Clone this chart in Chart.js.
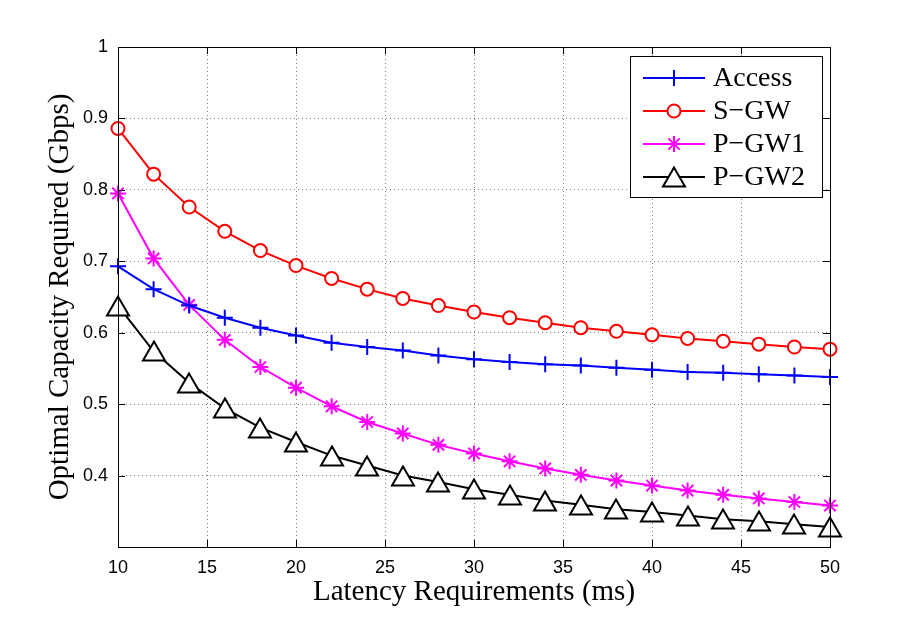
<!DOCTYPE html>
<html>
<head>
<meta charset="utf-8">
<script src="https://cdn.jsdelivr.net/npm/chart.js@4/dist/chart.umd.min.js"></script>
<style>
  html, body { margin: 0; padding: 0; background: #fff; }
  #wrap { width: 909px; height: 617px; }
</style>
</head>
<body>
<div id="wrap"><canvas id="myChart" width="909" height="617"></canvas></div>
<script>
// latency requirement (ms)
var latency = [10, 12, 14, 16, 18, 20, 22, 24, 26, 28, 30, 32, 34, 36, 38, 40, 42, 44, 46, 48, 50];
// optimal capacity (Gbps) per node
var access = [0.693, 0.661, 0.638, 0.621, 0.607, 0.596, 0.586, 0.580, 0.575, 0.568, 0.563, 0.559, 0.556, 0.554, 0.551, 0.548, 0.545, 0.544, 0.542, 0.540, 0.538];
var sgw    = [0.886, 0.822, 0.776, 0.742, 0.715, 0.694, 0.676, 0.661, 0.648, 0.638, 0.629, 0.621, 0.614, 0.607, 0.602, 0.597, 0.592, 0.588, 0.584, 0.580, 0.577];
var pgw1   = [0.795, 0.704, 0.639, 0.590, 0.552, 0.523, 0.497, 0.475, 0.459, 0.443, 0.431, 0.420, 0.410, 0.401, 0.393, 0.386, 0.379, 0.373, 0.368, 0.363, 0.358];
var pgw2   = [0.638, 0.574, 0.530, 0.494, 0.467, 0.447, 0.428, 0.414, 0.400, 0.391, 0.381, 0.373, 0.365, 0.359, 0.353, 0.349, 0.344, 0.339, 0.336, 0.332, 0.328];
var seriesNames = ['Access', 'S\u2212GW', 'P\u2212GW1', 'P\u2212GW2'];
var xTicks = [10, 15, 20, 25, 30, 35, 40, 45, 50];
var yTicks = [0.4, 0.5, 0.6, 0.7, 0.8, 0.9, 1];

function pts(arr) {
  return arr.map(function (v, i) { return { x: latency[i], y: v }; });
}

// matlab '^' marker is centred on its bounding box, chart.js triangle is not
function triMarker() {
  var c = document.createElement('canvas');
  c.width = 26; c.height = 24;
  var g = c.getContext('2d');
  g.beginPath();
  g.moveTo(13, 2.5);
  g.lineTo(24, 21.5);
  g.lineTo(2, 21.5);
  g.closePath();
  g.fillStyle = '#fff';
  g.fill();
  g.lineWidth = 2;
  g.lineJoin = 'miter';
  g.strokeStyle = '#000';
  g.stroke();
  return c;
}

function series(label, arr, color, style, radius) {
  return {
    label: label,
    data: pts(arr),
    borderColor: color,
    backgroundColor: color,
    borderWidth: 2,
    pointStyle: style,
    pointRadius: radius,
    pointHoverRadius: radius,
    pointBorderColor: color,
    pointBackgroundColor: '#ffffff',
    pointBorderWidth: 2,
    tension: 0,
    fill: false,
    clip: false
  };
}

var sets = [
  series(seriesNames[0], access, '#0000ff', 'cross', 8),
  series(seriesNames[1], sgw, '#ff0000', 'circle', 6.5),
  series(seriesNames[2], pgw1, '#ff00ff', 'star', 8),
  series(seriesNames[3], pgw2, '#000000', triMarker(), 11)
];

// matlab style box, inward ticks and legend
var frame = {
  id: 'frame',
  beforeDatasetsDraw: function (c) {
    c.ctx.imageSmoothingEnabled = false;
  },
  afterDatasetsDraw: function (c) {
    var ctx = c.ctx, a = c.chartArea, xs = c.scales.x, ys = c.scales.y;
    ctx.imageSmoothingEnabled = true;
    ctx.save();
    ctx.strokeStyle = '#000';
    ctx.lineWidth = 1;
    ctx.strokeRect(a.left + 0.5, a.top + 0.5, a.right - a.left, a.bottom - a.top);
    ctx.beginPath();
    xTicks.forEach(function (t) {
      var px = Math.round(xs.getPixelForValue(t)) + 0.5;
      ctx.moveTo(px, a.bottom); ctx.lineTo(px, a.bottom - 7);
      ctx.moveTo(px, a.top); ctx.lineTo(px, a.top + 7);
    });
    yTicks.forEach(function (t) {
      var py = Math.round(ys.getPixelForValue(t)) + 0.5;
      ctx.moveTo(a.left, py); ctx.lineTo(a.left + 7, py);
      ctx.moveTo(a.right, py); ctx.lineTo(a.right - 7, py);
    });
    ctx.stroke();

    // legend
    var lx = 630, ly = 56, lw = 192, lh = 141;
    ctx.fillStyle = '#fff';
    ctx.fillRect(lx, ly, lw, lh);
    ctx.strokeRect(lx + 0.5, ly + 0.5, lw, lh);
    var rowY = [78, 111, 144, 177];
    ctx.font = '28px "Liberation Serif", "Times New Roman", serif';
    ctx.textBaseline = 'middle';
    ctx.textAlign = 'left';
    sets.forEach(function (d, i) {
      var y = rowY[i];
      ctx.strokeStyle = d.borderColor;
      ctx.lineWidth = 2;
      ctx.beginPath();
      ctx.moveTo(643, y); ctx.lineTo(705, y);
      ctx.stroke();
      ctx.fillStyle = '#fff';
      Chart.helpers.drawPoint(ctx, { pointStyle: d.pointStyle, radius: d.pointRadius, rotation: 0, borderWidth: 2 }, 674, y);
      ctx.fillStyle = '#000';
      ctx.fillText(d.label, 713, y + 1);
    });
    ctx.restore();
  }
};

var ctx = document.getElementById('myChart');
var myChart = new Chart(ctx, {
  type: 'line',
  data: { datasets: sets },
  options: {
    responsive: false,
    animation: false,
    events: [],
    layout: { padding: { top: 47, right: 79, left: 0, bottom: 0 } },
    plugins: { legend: { display: false }, tooltip: { enabled: false } },
    scales: {
      x: {
        type: 'linear',
        min: 10, max: 50,
        afterFit: function (s) { s.height = 70; },
        afterBuildTicks: function (s) { s.ticks = xTicks.map(function (v) { return { value: v }; }); },
        grid: { color: 'rgba(0,0,0,0.5)', lineWidth: 1, drawTicks: false },
        border: { display: false, dash: [1, 3] },
        ticks: {
          padding: 10, color: '#000', maxRotation: 0,
          font: { family: '"Liberation Sans", Arial, sans-serif', size: 18 },
          callback: function (v) { return String(v); }
        },
        title: {
          display: true, text: 'Latency Requirements (ms)', color: '#000',
          font: { family: '"Liberation Serif", "Times New Roman", serif', size: 29, lineHeight: 1.2 },
          padding: { top: 0, bottom: 7 }
        }
      },
      y: {
        min: 0.3, max: 1,
        afterFit: function (s) { s.width = 118; },
        afterBuildTicks: function (s) { s.ticks = yTicks.map(function (v) { return { value: v }; }); },
        grid: { color: 'rgba(0,0,0,0.5)', lineWidth: 1, drawTicks: false },
        border: { display: false, dash: [1, 3] },
        ticks: {
          padding: 10, color: '#000',
          font: { family: '"Liberation Sans", Arial, sans-serif', size: 18 },
          callback: function (v) { return String(Math.round(v * 10) / 10); }
        },
        title: {
          display: true, text: 'Optimal Capacity Required (Gbps)', color: '#000',
          font: { family: '"Liberation Serif", "Times New Roman", serif', size: 29, lineHeight: 1.2 },
          padding: { top: 43, bottom: 0 }
        }
      }
    }
  },
  plugins: [frame]
});
</script>
</body>
</html>
